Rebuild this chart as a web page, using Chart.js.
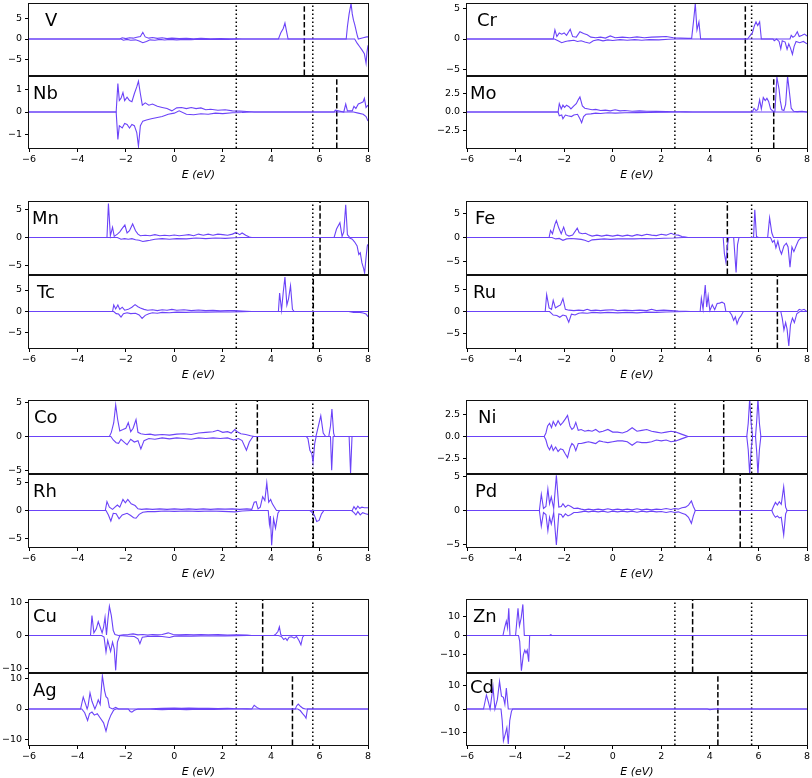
<!DOCTYPE html>
<html>
<head>
<meta charset="utf-8">
<script src="https://cdn.jsdelivr.net/npm/chart.js@4.4.1/dist/chart.umd.min.js"></script>
<style>
  html, body { margin: 0; padding: 0; background: #fff; }
  body { width: 812px; height: 778px; position: relative; overflow: hidden; }
  .panel { position: absolute; }
</style>
</head>
<body>
<script>
// spin-resolved DOS, [E (eV), value]
const V_up = [[-6,0],[-2.25,0],[-2.15,0.3],[-2.0,0.1],[-1.85,0.3],[-1.7,0.2],[-1.55,0.4],[-1.4,0.6],[-1.3,1.6],[-1.2,0.5],[-1.05,0.2],[-0.9,0.35],[-0.7,0.15],[-0.5,0.3],[-0.3,0.1],[-0.1,0.2],[0.2,0.1],[0.5,0.15],[0.8,0.05],[1.1,0.15],[1.5,0.05],[1.9,0.1],[2.3,0.05],[2.6,0.05],[2.8,0],[4.3,0],[4.4,1.5],[4.5,2.5],[4.57,3.8],[4.63,2],[4.7,0],[7.1,0],[7.15,3],[7.22,6],[7.3,8.5],[7.35,6],[7.4,4.5],[7.45,3.5],[7.55,1],[7.6,0],[7.8,0.3],[7.95,0.5],[8,0.5]];
const V_dn = [[-6,0],[-2.2,0],[-2.1,-0.3],[-1.95,-0.1],[-1.8,-0.3],[-1.6,-0.2],[-1.45,-0.5],[-1.3,-0.9],[-1.15,-0.6],[-1.0,-0.2],[-0.8,-0.3],[-0.6,-0.1],[-0.4,-0.25],[-0.2,-0.1],[0.1,-0.2],[0.4,-0.1],[0.7,-0.15],[1.0,-0.05],[1.4,-0.1],[1.8,-0.05],[2.2,-0.1],[2.6,-0.03],[2.8,0],[7.45,0],[7.55,-1],[7.65,-1.8],[7.75,-2.6],[7.85,-3.5],[7.92,-5.8],[7.96,-3],[8,-1.5]];
const Nb_up = [[-6,0],[-2.4,0],[-2.33,1.25],[-2.27,0.5],[-2.2,0.6],[-2.12,0.85],[-2.05,0.5],[-1.95,0.65],[-1.85,0.5],[-1.75,0.45],[-1.65,0.8],[-1.55,1.1],[-1.48,1.35],[-1.4,0.8],[-1.32,0.3],[-1.2,0.4],[-1.05,0.3],[-0.9,0.35],[-0.7,0.25],[-0.5,0.2],[-0.3,0.15],[-0.1,0.05],[0.1,0.18],[0.3,0.2],[0.5,0.15],[0.7,0.2],[0.9,0.15],[1.1,0.18],[1.3,0.1],[1.5,0.12],[1.8,0.08],[2.1,0.1],[2.4,0.05],[2.7,0.04],[3.0,0.02],[3.3,0],[6.6,0],[6.65,0.08],[7.0,0],[7.08,0.35],[7.15,0.05],[7.35,0.05],[7.42,0.25],[7.5,0.15],[7.6,0.35],[7.7,0.4],[7.8,0.45],[7.85,0.6],[7.92,0.2],[8,0.3]];
const Nb_dn = [[-6,0],[-2.4,0],[-2.33,-1.2],[-2.27,-0.6],[-2.15,-0.7],[-2.05,-0.5],[-1.95,-0.55],[-1.85,-0.7],[-1.75,-0.55],[-1.65,-0.6],[-1.55,-0.9],[-1.48,-1.5],[-1.4,-0.6],[-1.3,-0.4],[-1.15,-0.35],[-0.95,-0.3],[-0.75,-0.25],[-0.5,-0.2],[-0.25,-0.1],[0,-0.05],[0.2,0.05],[0.5,-0.1],[0.8,-0.12],[1.1,-0.08],[1.4,-0.1],[1.7,-0.05],[2.0,-0.07],[2.4,-0.03],[2.8,-0.02],[3.2,0],[7.4,0],[7.6,-0.05],[7.8,-0.1],[7.92,-0.2],[8,-0.4]];
const Cr_up = [[-6,0],[-2.45,0],[-2.38,1.5],[-2.3,0.4],[-2.2,1.0],[-2.1,0.8],[-2.0,1.0],[-1.9,0.6],[-1.75,1.6],[-1.65,0.4],[-1.5,0.3],[-1.35,1.2],[-1.2,0.9],[-1.05,0.7],[-0.9,0.3],[-0.7,0.2],[-0.5,0.3],[-0.3,0.15],[-0.1,0.5],[0.1,0.2],[0.4,0.3],[0.7,0.2],[1.0,0.35],[1.3,0.2],[1.6,0.3],[1.9,0.35],[2.2,0.4],[2.5,0.2],[2.8,0.15],[3.1,0.1],[3.25,0.1],[3.33,3],[3.4,5.8],[3.47,1.5],[3.55,2.8],[3.62,0],[5.55,0],[5.65,0.5],[5.75,1.0],[5.82,2.0],[5.9,2.8],[5.97,2.2],[6.05,2.8],[6.12,0],[7.3,0],[7.35,0.6],[7.42,0.3],[7.5,0.5],[7.6,1.2],[7.68,0.4],[7.8,0.6],[7.9,0.8],[8,0.5]];
const Cr_dn = [[-6,0],[-2.4,0],[-2.25,-0.3],[-2.1,-0.6],[-1.95,-0.4],[-1.8,-0.3],[-1.6,-0.2],[-1.45,-0.4],[-1.3,-0.3],[-1.15,-0.5],[-0.95,-0.7],[-0.8,-0.3],[-0.6,-0.1],[-0.4,-0.3],[-0.2,-0.15],[0,-0.25],[0.3,-0.1],[0.6,-0.2],[0.9,-0.1],[1.2,-0.2],[1.5,-0.1],[1.9,-0.15],[2.3,-0.05],[2.6,0],[6.6,0],[6.65,-0.3],[6.75,0],[6.85,-0.4],[6.92,-1.6],[6.98,-0.3],[7.1,-0.5],[7.18,-1.7],[7.25,-0.8],[7.32,-1.5],[7.4,-2.5],[7.47,-1.2],[7.55,-0.4],[7.7,-0.6],[7.85,-0.4],[8,-0.8]];
const Mo_up = [[-6,0],[-2.25,0],[-2.2,1.1],[-2.12,0.4],[-2.05,0.9],[-1.98,0.6],[-1.9,0.9],[-1.8,0.7],[-1.72,0.4],[-1.6,0.8],[-1.5,1.1],[-1.42,1.6],[-1.35,2.0],[-1.25,0.8],[-1.15,0.5],[-1.0,0.4],[-0.85,0.3],[-0.7,0.35],[-0.5,0.2],[-0.3,0.25],[-0.1,0.15],[0.1,0.3],[0.3,0.15],[0.5,0.2],[0.8,0.1],[1.1,0.15],[1.4,0.1],[1.8,0.08],[2.2,0.05],[2.6,0.04],[3.0,0.02],[3.3,0],[5.75,0],[5.82,0.5],[5.9,0.2],[5.97,0.3],[6.05,1.6],[6.12,0.4],[6.2,1.9],[6.28,1.5],[6.35,1.8],[6.42,1.4],[6.5,0.4],[6.6,0.1],[6.68,0.1],[6.76,4.6],[6.85,3.0],[6.9,1.5],[6.97,0.3],[7.05,0.2],[7.12,1.0],[7.2,4.7],[7.28,2.5],[7.35,0.5],[7.45,0.1],[7.6,0.05],[7.8,0.1],[8,0]];
const Mo_dn = [[-6,0],[-2.25,0],[-2.2,-0.5],[-2.1,-0.4],[-2.05,-0.9],[-1.95,-0.4],[-1.85,-0.5],[-1.7,-0.6],[-1.6,-0.4],[-1.45,-0.3],[-1.35,-0.9],[-1.28,-1.4],[-1.2,-0.6],[-1.1,-0.3],[-0.9,-0.25],[-0.7,-0.15],[-0.5,-0.2],[-0.2,-0.1],[0.1,-0.15],[0.5,-0.1],[1,-0.08],[1.5,-0.05],[2.2,-0.03],[2.8,0],[8,0]];
const Mn_up = [[-6,0],[-2.78,0],[-2.72,6.0],[-2.64,0.3],[-2.55,1.8],[-2.48,0.2],[-2.35,0.6],[-2.25,1.0],[-2.15,1.6],[-2.04,2.2],[-1.95,0.8],[-1.85,1.2],[-1.72,2.4],[-1.6,1.2],[-1.5,0.6],[-1.4,0.3],[-1.2,0.4],[-1.0,0.3],[-0.8,0.5],[-0.6,0.3],[-0.4,0.4],[-0.2,0.3],[0,0.45],[0.2,0.3],[0.4,0.4],[0.6,0.5],[0.8,0.3],[1.0,0.6],[1.2,0.4],[1.4,0.6],[1.6,0.4],[1.8,0.6],[2.0,0.5],[2.2,0.4],[2.4,0.6],[2.55,0.9],[2.7,0.5],[2.8,0.8],[2.95,0.4],[3.1,0.1],[3.2,0],[6.6,0],[6.7,1.5],[6.84,2.6],[6.93,0.2],[7.0,1.0],[7.08,5.8],[7.15,0.5],[7.25,0],[8,0]];
const Mn_dn = [[-6,0],[-2.35,0],[-2.2,-0.3],[-2.05,-0.2],[-1.9,-0.3],[-1.75,-0.2],[-1.6,-0.4],[-1.45,-0.5],[-1.3,-0.7],[-1.15,-0.6],[-1.0,-0.5],[-0.8,-0.3],[-0.5,-0.2],[-0.2,-0.3],[0.1,-0.2],[0.5,-0.25],[0.9,-0.1],[1.3,-0.2],[1.7,-0.1],[2.1,-0.15],[2.5,-0.05],[2.8,0],[7.2,0],[7.35,-0.3],[7.45,-0.8],[7.55,-1.5],[7.62,-3.0],[7.68,-2.7],[7.75,-4.5],[7.82,-5.5],[7.86,-6.3],[7.92,-3.5],[7.97,-1.5],[8,-1.2]];
const Tc_up = [[-6,0],[-2.55,0],[-2.5,1.5],[-2.42,0.6],[-2.33,1.5],[-2.25,0.5],[-2.15,1.0],[-2.05,0.3],[-1.9,0.5],[-1.75,1.0],[-1.62,1.6],[-1.5,1.1],[-1.4,0.8],[-1.25,0.5],[-1.1,0.3],[-0.9,0.4],[-0.7,0.2],[-0.5,0.4],[-0.3,0.3],[-0.1,0.5],[0.1,0.3],[0.4,0.4],[0.7,0.2],[1.0,0.35],[1.3,0.2],[1.6,0.3],[1.9,0.15],[2.2,0.25],[2.5,0.2],[2.8,0.1],[3.2,0],[4.3,0],[4.35,4.3],[4.43,0.3],[4.5,4.5],[4.57,8.0],[4.65,1.5],[4.72,3.0],[4.8,6.0],[4.88,0.5],[4.95,0],[8,0]];
const Tc_dn = [[-6,0],[-2.5,0],[-2.4,-0.5],[-2.3,-0.6],[-2.2,-1.3],[-2.1,-0.5],[-1.95,-0.3],[-1.8,-0.5],[-1.6,-0.4],[-1.45,-0.8],[-1.33,-1.6],[-1.2,-0.9],[-1.05,-0.5],[-0.9,-0.3],[-0.7,-0.4],[-0.5,-0.2],[-0.2,-0.3],[0.1,-0.15],[0.5,-0.2],[0.9,-0.1],[1.3,-0.15],[1.8,-0.08],[2.3,-0.1],[2.8,-0.03],[3.1,0],[7.2,0],[7.4,-0.2],[7.6,-0.15],[7.8,-0.35],[7.92,-0.6],[8,-1.2]];
const Fe_up = [[-6,0],[-2.62,0],[-2.56,1.5],[-2.48,0.8],[-2.38,2.8],[-2.32,3.6],[-2.22,2.0],[-2.12,0.8],[-2.02,2.2],[-1.92,0.6],[-1.8,0.3],[-1.65,0.5],[-1.46,2.0],[-1.38,1.0],[-1.25,0.8],[-1.12,0.9],[-1.0,0.6],[-0.85,0.3],[-0.65,0.5],[-0.45,0.3],[-0.25,0.5],[0,0.3],[0.2,0.5],[0.4,0.3],[0.6,0.5],[0.8,0.3],[1.0,0.6],[1.2,0.4],[1.4,0.7],[1.6,0.5],[1.8,0.4],[2.0,0.7],[2.2,0.5],[2.4,0.9],[2.55,0.6],[2.7,0.5],[2.85,0.2],[3.0,0.1],[3.1,0],[5.8,0],[5.85,5.9],[5.92,0.2],[6.0,0],[6.38,0],[6.46,4.2],[6.55,1.0],[6.62,0],[8,0]];
const Fe_dn = [[-6,0],[-2.5,0],[-2.35,-0.3],[-2.2,-0.2],[-2.05,-0.6],[-1.9,-0.3],[-1.7,-0.2],[-1.5,-0.3],[-1.3,-0.4],[-1.15,-0.6],[-1.0,-0.9],[-0.85,-0.5],[-0.6,-0.4],[-0.35,-0.3],[-0.1,-0.4],[0.2,-0.3],[0.5,-0.25],[0.9,-0.3],[1.3,-0.2],[1.7,-0.25],[2.1,-0.15],[2.5,-0.1],[2.9,0],[4.55,0],[4.6,-3.5],[4.66,-5.2],[4.73,-1.5],[4.78,0],[4.98,0],[5.08,-7.4],[5.14,-1.5],[5.2,0],[6.5,0],[6.58,-1.0],[6.65,-0.6],[6.72,-2.2],[6.8,-0.8],[6.88,-2.6],[6.95,-3.5],[7.05,-1.8],[7.15,-1.2],[7.22,-2.0],[7.3,-6.3],[7.38,-2.0],[7.46,-3.0],[7.55,-1.8],[7.65,-0.6],[7.75,-0.1],[8,0]];
const Ru_up = [[-6,0],[-2.78,0],[-2.72,3.8],[-2.62,0.8],[-2.52,0.5],[-2.45,2.5],[-2.36,0.8],[-2.25,1.2],[-2.15,1.5],[-2.05,2.9],[-1.95,0.5],[-1.8,0.3],[-1.6,0.2],[-1.4,0.3],[-1.2,0.2],[-1.05,0.5],[-0.9,0.2],[-0.7,0.3],[-0.5,0.2],[-0.3,0.3],[0,0.4],[0.2,0.2],[0.5,0.3],[0.8,0.2],[1.1,0.3],[1.4,0.2],[1.6,0.5],[1.8,0.2],[2.1,0.3],[2.4,0.2],[2.7,0.1],[3.0,0.05],[3.2,0],[3.6,0],[3.65,3.0],[3.72,0.5],[3.81,6.0],[3.87,1.0],[3.93,3.5],[4.0,0.2],[4.1,1.5],[4.2,0.4],[4.3,1.8],[4.4,1.9],[4.5,2.1],[4.6,1.8],[4.66,0],[7.6,0],[7.68,0.5],[7.78,0.3],[7.88,0.5],[7.95,0.2],[8,0]];
const Ru_dn = [[-6,0],[-2.6,0],[-2.45,-0.8],[-2.3,-0.9],[-2.18,-1.3],[-2.05,-0.8],[-1.92,-1.0],[-1.81,-2.4],[-1.7,-0.6],[-1.55,-0.8],[-1.4,-0.4],[-1.25,-0.3],[-1.05,-0.4],[-0.8,-0.2],[-0.5,-0.3],[-0.2,-0.2],[0.2,-0.3],[0.6,-0.2],[1.0,-0.3],[1.4,-0.15],[1.8,-0.2],[2.2,-0.1],[2.6,-0.05],[3.0,0],[4.8,0],[4.9,-0.8],[4.98,-2.0],[5.05,-1.2],[5.12,-2.8],[5.2,-1.6],[5.28,-1.0],[5.38,0],[6.92,0],[6.98,-1.5],[7.05,-4.2],[7.12,-2.5],[7.18,-4.0],[7.25,-7.8],[7.32,-3.0],[7.4,-1.5],[7.48,-2.5],[7.58,-0.5],[7.7,0],[8,0]];
const Co_up = [[-6,0],[-2.68,0],[-2.6,0.6],[-2.5,2.0],[-2.42,4.6],[-2.34,2.5],[-2.25,0.8],[-2.12,1.0],[-2.0,1.2],[-1.9,2.0],[-1.8,0.7],[-1.7,1.2],[-1.58,2.45],[-1.5,0.6],[-1.38,0.4],[-1.2,0.3],[-1.0,0.35],[-0.8,0.2],[-0.5,0.3],[-0.2,0.2],[0.1,0.35],[0.4,0.4],[0.7,0.3],[1.0,0.5],[1.3,0.6],[1.6,0.7],[1.8,0.9],[2.0,0.6],[2.2,0.7],[2.35,0.5],[2.5,1.0],[2.6,0.7],[2.75,0.4],[2.95,0.3],[3.15,0.1],[3.3,0],[5.85,0],[5.95,1.5],[6.05,3.0],[6.15,0.5],[6.25,0],[6.38,0],[6.45,1.5],[6.51,4.0],[6.58,0.5],[6.62,0],[8,0]];
const Co_dn = [[-6,0],[-2.62,0],[-2.52,-0.5],[-2.4,-0.9],[-2.3,-1.0],[-2.2,-0.4],[-2.05,-0.9],[-1.95,-1.2],[-1.8,-0.4],[-1.65,-0.8],[-1.5,-0.6],[-1.38,-1.8],[-1.25,-0.6],[-1.05,-0.3],[-0.8,-0.4],[-0.5,-0.2],[-0.2,-0.35],[0.1,-0.2],[0.4,-0.3],[0.7,-0.4],[1.0,-0.2],[1.3,-0.3],[1.6,-0.2],[1.9,-0.3],[2.2,-0.2],[2.45,-0.5],[2.65,-0.3],[2.8,-0.6],[2.98,-2.0],[3.1,-0.8],[3.25,0],[5.45,0],[5.52,-0.3],[5.6,-2.0],[5.68,-2.5],[5.73,-3.8],[5.8,-1.0],[5.86,0],[6.45,0],[6.5,-4.9],[6.56,0],[7.22,0],[7.28,-5.3],[7.34,0],[8,0]];
const Rh_up = [[-6,0],[-2.85,0],[-2.78,1.6],[-2.68,0.6],[-2.55,0.2],[-2.45,0.6],[-2.35,1.0],[-2.25,0.6],[-2.12,2.0],[-2.02,1.4],[-1.92,2.0],[-1.78,1.2],[-1.62,0.9],[-1.5,0.3],[-1.35,0.2],[-1.15,0.3],[-0.9,0.2],[-0.6,0.3],[-0.3,0.2],[0,0.3],[0.3,0.2],[0.6,0.3],[0.9,0.2],[1.2,0.3],[1.5,0.2],[1.8,0.3],[2.1,0.25],[2.4,0.3],[2.7,0.2],[3.0,0.3],[3.2,0.2],[3.3,1.5],[3.38,1.6],[3.46,0.3],[3.55,0.6],[3.65,2.5],[3.74,1.8],[3.82,5.0],[3.9,1.5],[3.98,2.0],[4.05,1.2],[4.15,0.5],[4.22,0],[7.35,0],[7.42,0.7],[7.5,0.2],[7.58,0.8],[7.66,0.4],[7.75,0.6],[7.85,0.5],[8,0.5]];
const Rh_dn = [[-6,0],[-2.82,0],[-2.72,-0.8],[-2.62,-1.9],[-2.52,-0.5],[-2.4,-0.6],[-2.28,-1.5],[-2.15,-0.8],[-1.95,-0.5],[-1.8,-0.9],[-1.68,-1.3],[-1.58,-1.4],[-1.45,-0.7],[-1.3,-0.3],[-1.1,-0.2],[-0.8,-0.2],[-0.4,-0.1],[0,-0.15],[0.5,-0.1],[1.0,-0.15],[1.5,-0.1],[2.0,-0.15],[2.5,-0.25],[2.8,-0.1],[3.2,0],[3.88,0],[3.93,-2.5],[3.97,-1.0],[4.02,-6.3],[4.1,-1.5],[4.18,-3.2],[4.28,-0.5],[4.35,0],[5.6,0],[5.68,-0.3],[5.78,-0.8],[5.88,-2.0],[5.98,-1.8],[6.08,-0.6],[6.18,0],[7.32,0],[7.42,-0.4],[7.5,-0.8],[7.58,-0.2],[7.68,-0.8],[7.78,-0.4],[7.9,-0.6],[8,-0.7]];
const Ni_up = [[-6,0],[-2.82,0],[-2.75,0.4],[-2.68,1.2],[-2.6,1.5],[-2.52,1.0],[-2.45,1.7],[-2.35,1.2],[-2.25,1.8],[-2.15,1.3],[-2.05,1.6],[-1.95,2.0],[-1.86,2.4],[-1.76,1.2],[-1.68,0.8],[-1.6,1.0],[-1.52,1.6],[-1.42,0.7],[-1.3,0.8],[-1.15,0.6],[-1.0,0.7],[-0.85,0.6],[-0.7,0.8],[-0.55,0.5],[-0.4,0.6],[-0.2,0.8],[0,0.5],[0.2,0.5],[0.4,0.4],[0.6,0.6],[0.8,1.0],[1.0,0.6],[1.2,0.7],[1.4,0.8],[1.6,0.6],[1.8,0.5],[2.0,0.4],[2.2,0.5],[2.4,0.6],[2.6,0.5],[2.8,0.3],[3.0,0.1],[3.1,0],[5.52,0],[5.58,1.5],[5.64,4.3],[5.7,1.5],[5.76,0],[5.88,0],[5.93,1.8],[5.98,4.3],[6.04,1.5],[6.1,0],[8,0]];
const Ni_dn = [[-6,0],[-2.82,0],[-2.75,-0.4],[-2.68,-1.1],[-2.6,-1.5],[-2.52,-1.0],[-2.45,-1.6],[-2.35,-1.2],[-2.25,-1.7],[-2.15,-1.4],[-2.05,-1.5],[-1.95,-2.0],[-1.86,-2.4],[-1.76,-1.3],[-1.68,-0.8],[-1.6,-1.0],[-1.52,-1.6],[-1.42,-0.8],[-1.3,-0.8],[-1.15,-0.7],[-1.0,-0.6],[-0.85,-0.7],[-0.7,-0.8],[-0.55,-0.5],[-0.4,-0.6],[-0.2,-0.7],[0,-0.6],[0.2,-0.5],[0.4,-0.5],[0.6,-0.6],[0.8,-1.0],[1.0,-0.6],[1.2,-0.7],[1.4,-0.7],[1.6,-0.6],[1.8,-0.4],[2.0,-0.5],[2.2,-0.4],[2.4,-0.6],[2.6,-0.5],[2.8,-0.3],[3.0,-0.1],[3.1,0],[5.52,0],[5.58,-1.5],[5.64,-4.3],[5.7,-1.5],[5.76,0],[5.88,0],[5.93,-1.8],[5.98,-4.3],[6.04,-1.5],[6.1,0],[8,0]];
const Pd_up = [[-6,0],[-3.02,0],[-2.94,2.4],[-2.85,0.3],[-2.75,0.6],[-2.67,3.2],[-2.6,1.0],[-2.53,2.0],[-2.43,0.3],[-2.32,5.2],[-2.22,0.5],[-2.12,0.6],[-2.05,1.0],[-1.95,0.5],[-1.84,0.8],[-1.72,0.6],[-1.6,0.3],[-1.45,0.35],[-1.3,0.2],[-1.15,0.1],[-1.0,0.2],[-0.8,0.1],[-0.6,0.2],[-0.4,0.1],[-0.2,0.25],[0,0.1],[0.2,0.2],[0.4,0.1],[0.6,0.2],[0.8,0.1],[1.0,0.25],[1.2,0.1],[1.4,0.2],[1.6,0.1],[1.8,0.2],[2.0,0.15],[2.2,0.3],[2.4,0.15],[2.55,0.3],[2.7,0.2],[2.85,0.4],[3.0,0.5],[3.12,0.8],[3.24,1.4],[3.32,0.6],[3.4,0],[6.55,0],[6.62,0.6],[6.7,1.2],[6.78,0.8],[6.86,1.3],[6.94,0.9],[7.04,3.5],[7.12,0.5],[7.18,0],[8,0]];
const Pd_dn = [[-6,0],[-3.02,0],[-2.94,-2.3],[-2.85,-0.3],[-2.75,-0.6],[-2.67,-3.0],[-2.6,-1.0],[-2.53,-2.0],[-2.43,-0.3],[-2.32,-5.1],[-2.22,-0.5],[-2.12,-0.6],[-2.05,-1.0],[-1.95,-0.5],[-1.84,-0.8],[-1.72,-0.6],[-1.6,-0.3],[-1.45,-0.3],[-1.3,-0.2],[-1.15,-0.1],[-1.0,-0.2],[-0.8,-0.1],[-0.6,-0.2],[-0.4,-0.1],[-0.2,-0.25],[0,-0.1],[0.2,-0.2],[0.4,-0.1],[0.6,-0.2],[0.8,-0.1],[1.0,-0.25],[1.2,-0.1],[1.4,-0.2],[1.6,-0.1],[1.8,-0.2],[2.0,-0.15],[2.2,-0.3],[2.4,-0.15],[2.55,-0.3],[2.7,-0.2],[2.85,-0.4],[3.0,-0.6],[3.12,-1.0],[3.24,-1.9],[3.32,-0.8],[3.4,0],[6.55,0],[6.62,-0.6],[6.7,-1.0],[6.78,-0.8],[6.86,-1.1],[6.94,-1.0],[7.04,-3.6],[7.12,-0.5],[7.18,0],[8,0]];
const Cu_up = [[-6,0],[-3.46,0],[-3.4,6.0],[-3.32,0.8],[-3.22,2.0],[-3.14,4.2],[-3.06,2.5],[-2.98,0.8],[-2.92,2.5],[-2.86,5.5],[-2.8,0.2],[-2.74,5.0],[-2.68,8.8],[-2.6,6.0],[-2.52,1.5],[-2.45,0.3],[-2.3,0],[-2.1,0.2],[-1.9,0.3],[-1.7,0.5],[-1.5,0.2],[-1.3,0.3],[-1.1,0.1],[-0.9,0.3],[-0.7,0.2],[-0.5,0.3],[-0.25,0.8],[-0.05,0.3],[0.2,0.2],[0.5,0.3],[0.8,0.2],[1.1,0.3],[1.4,0.2],[1.8,0.25],[2.2,0.15],[2.6,0.2],[3.0,0.1],[3.2,0],[4.12,0],[4.2,0.5],[4.28,1.2],[4.34,2.6],[4.4,0.2],[4.45,0],[8,0]];
const Cu_dn = [[-6,0],[-3.0,0],[-2.9,-0.5],[-2.82,-5.0],[-2.75,-1.5],[-2.63,-4.8],[-2.55,-2.0],[-2.48,-4.0],[-2.42,-10.5],[-2.35,-2.0],[-2.25,0],[-1.9,-0.2],[-1.65,-0.3],[-1.5,-1.0],[-1.42,-2.5],[-1.32,-0.5],[-1.1,-0.3],[-0.8,-0.2],[-0.5,-0.3],[-0.2,-0.6],[0,-0.2],[0.3,-0.1],[0.7,-0.2],[1.1,-0.1],[1.6,-0.15],[2.1,-0.1],[2.6,-0.05],[3.0,0],[4.3,0],[4.42,-0.3],[4.52,-1.2],[4.6,-0.8],[4.66,-1.5],[4.74,-0.5],[4.85,-0.4],[4.95,-0.8],[5.05,-0.3],[5.15,-1.5],[5.23,-2.8],[5.3,-0.5],[5.36,0],[8,0]];
const Ag_up = [[-6,0],[-3.87,0],[-3.76,3.9],[-3.66,1.5],[-3.6,0],[-3.56,1.0],[-3.48,5.2],[-3.4,2.5],[-3.28,0],[-3.2,1.5],[-3.14,3.0],[-3.06,1.5],[-2.97,10.8],[-2.88,6.0],[-2.82,4.0],[-2.75,3.5],[-2.68,0.5],[-2.55,0],[-2.42,0.5],[-2.3,0],[-1.5,0],[-1.0,0.1],[-0.5,0.2],[0,0.3],[0.3,0.2],[0.6,0.3],[1.0,0.2],[1.4,0.25],[1.8,0.15],[2.2,0.2],[2.6,0.1],[3.0,0.05],[3.2,0],[3.3,1.2],[3.45,0.3],[3.55,0],[5.0,0],[5.05,1.0],[5.12,1.6],[5.22,0.8],[5.32,0.2],[5.42,0],[8,0]];
const Ag_dn = [[-6,0],[-3.82,0],[-3.7,-1.2],[-3.58,-3.7],[-3.5,-1.5],[-3.4,-1.0],[-3.3,-2.0],[-3.18,-1.5],[-3.05,-3.0],[-2.92,-4.5],[-2.82,-7.2],[-2.72,-4.0],[-2.62,-2.0],[-2.5,-0.3],[-2.4,0],[-1.9,0],[-1.82,-0.8],[-1.75,-1.0],[-1.65,-0.4],[-1.5,0],[-1.0,-0.1],[-0.5,-0.2],[0,-0.1],[0.5,-0.2],[1,-0.1],[1.6,-0.15],[2.2,-0.1],[2.8,0],[5.1,0],[5.2,-0.5],[5.3,-1.5],[5.38,-2.2],[5.44,-3.0],[5.5,0],[8,0]];
const Zn_up = [[-6,0],[-4.52,0],[-4.45,4.0],[-4.38,7.4],[-4.33,4.0],[-4.28,14.0],[-4.23,0],[-4.0,0],[-3.9,14.0],[-3.84,5.0],[-3.77,9.0],[-3.7,16.0],[-3.64,0],[-2.6,0],[-2.55,0.4],[-2.5,0],[8,0]];
const Zn_dn = [[-6,0],[-3.88,0],[-3.83,-3.0],[-3.76,-18.1],[-3.68,-10.0],[-3.62,-7.5],[-3.57,-9.0],[-3.52,-7.5],[-3.46,-13.5],[-3.42,0],[8,0]];
const Cd_up = [[-6,0],[-5.32,0],[-5.2,6.0],[-5.12,3.0],[-5.05,0],[-4.93,9.5],[-4.85,0],[-4.75,4.0],[-4.66,11.8],[-4.58,5.5],[-4.5,5.0],[-4.44,2.0],[-4.38,9.0],[-4.3,0],[8,0]];
const Cd_dn = [[-6,0],[-4.6,0],[-4.55,-5.0],[-4.5,-13.6],[-4.42,-10.5],[-4.36,-8.0],[-4.3,-15.0],[-4.24,-5.0],[-4.17,-1.0],[-4.12,0],[3.9,0],[4.0,-0.3],[4.2,0],[8,0]];

// panel order: pairs top/bottom, left column then right column per row
const elements = ["V", "Nb", "Cr", "Mo", "Mn", "Tc", "Fe", "Ru", "Co", "Rh", "Ni", "Pd", "Cu", "Ag", "Zn", "Cd"];
const spinUp = [V_up, Nb_up, Cr_up, Mo_up, Mn_up, Tc_up, Fe_up, Ru_up, Co_up, Rh_up, Ni_up, Pd_up, Cu_up, Ag_up, Zn_up, Cd_up];
const spinDown = [V_dn, Nb_dn, Cr_dn, Mo_dn, Mn_dn, Tc_dn, Fe_dn, Ru_dn, Co_dn, Rh_dn, Ni_dn, Pd_dn, Cu_dn, Ag_dn, Zn_dn, Cd_dn];
const yLimits = [8.6, 1.58, 5.9, 4.75, 6.45, 8.5, 7.75, 8.25, 5.3, 6.6, 4.15, 5.4, 11, 11.7, 18.8, 15.4];
const yTicks = [[-5,0,5], [-1,0,1], [-5,0,5], [-2.5,0,2.5], [-5,0,5], [-5,0,5], [-5,0,5], [-5,0,5],
                [-5,0,5], [-5,0,5], [-2.5,0,2.5], [-5,0,5], [-10,0,10], [-10,0,10], [-10,0,10], [-10,0,10]];
const xTicks = [-6, -4, -2, 0, 2, 4, 6, 8];
const dottedLines = [2.56, 5.72];
const dashedLines = [5.37, 6.71, 5.46, 6.63, 6.02, 5.74, 4.72, 6.78, 3.43, 5.74, 4.57, 5.25, 3.65, 4.88, 3.29, 4.33];

const LINE_COLOR = "#6b43f8";
const FONT = "DejaVu Sans";

// page layout of the panels
const rows = [[3, 75, 76, 148], [201, 274, 275, 348], [400, 473, 474, 547], [599, 672, 673, 745]];
const cols = [{ left: 0, width: 380, axisW: 29, padR: 12 }, { left: 405, width: 415, axisW: 62, padR: 13 }];
const labelDx = [16, 4, 10, 3, 3, 8, 8, 6, 5, 4, 11, 8, 4, 4, 6, 3];

const fmtTick = (v, dec) => v.toFixed(dec).replace("-", "\u2212");

function makePanel(i) {
  const pair = Math.floor(i / 2);
  const isBottom = i % 2 === 1;
  const row = rows[Math.floor(pair / 2)];
  const col = cols[pair % 2];
  const top = isBottom ? row[2] : row[0];
  const h = (isBottom ? row[3] : row[1]) - top;

  const wrap = document.createElement("div");
  wrap.className = "panel";
  wrap.style.left = col.left + "px";
  wrap.style.top = (top - 10) + "px";
  const canvas = document.createElement("canvas");
  canvas.width = col.width;
  canvas.height = 10 + h + (isBottom ? 35 : 10);
  wrap.appendChild(canvas);
  document.body.appendChild(wrap);

  const lim = yLimits[i];
  const dec = yTicks[i].some(v => v % 1 !== 0) ? 1 : 0;

  const curve = pts => ({ data: pts, borderColor: LINE_COLOR, borderWidth: 1.1, pointRadius: 0, tension: 0 });
  const vline = (x, dash) => ({
    data: [[x, -lim], [x, lim]], borderColor: "#000", borderWidth: 1.5, borderDash: dash, pointRadius: 0
  });

  const framePlugin = {
    id: "frame",
    afterDraw(chart) {
      const { ctx, chartArea: a } = chart;
      ctx.save();
      ctx.strokeStyle = "#111";
      ctx.lineWidth = 1;
      ctx.strokeRect(Math.round(a.left) - 0.5, Math.round(a.top) + 0.5, Math.round(a.width) + 1, Math.round(a.height));
      ctx.font = "18px '" + FONT + "'";
      ctx.fillStyle = "#000";
      ctx.fillText(elements[i], a.left + labelDx[i], a.top + (elements[i] === "Cd" ? 20 : 23));
      ctx.restore();
    }
  };

  new Chart(canvas, {
    type: "line",
    data: {
      datasets: [
        curve(spinUp[i]),
        curve(spinDown[i]),
        vline(dottedLines[0], [1.5, 2.5]),
        vline(dottedLines[1], [1.5, 2.5]),
        vline(dashedLines[i], [5.5, 2.4])
      ]
    },
    options: {
      responsive: false,
      animation: false,
      devicePixelRatio: 1,
      layout: { padding: { top: 10, bottom: isBottom ? 0 : 10, left: 0, right: col.padR } },
      scales: {
        x: {
          type: "linear",
          min: -6,
          max: 8,
          display: isBottom,
          afterBuildTicks: s => { s.ticks = xTicks.map(v => ({ value: v })); },
          afterFit: s => { s.height = isBottom ? 35 : 0; },
          ticks: {
            font: { family: FONT, size: 9.5 },
            color: "#000",
            padding: 2,
            maxRotation: 0,
            autoSkip: false,
            callback: v => fmtTick(v, 0)
          },
          grid: { drawOnChartArea: false, tickLength: 4, color: "#000" },
          border: { display: false },
          title: {
            display: true,
            text: "E (eV)",
            color: "#000",
            font: { family: FONT, size: 11, style: "italic" },
            padding: { top: 0, bottom: 1.5 }
          }
        },
        y: {
          type: "linear",
          min: -lim,
          max: lim,
          afterBuildTicks: s => { s.ticks = yTicks[i].map(v => ({ value: v })); },
          afterFit: s => { s.width = col.axisW; },
          ticks: {
            font: { family: FONT, size: 9.5 },
            color: "#000",
            padding: 3,
            autoSkip: false,
            callback: v => fmtTick(v, dec)
          },
          grid: { drawOnChartArea: false, tickLength: 4, color: "#000" },
          border: { display: false }
        }
      },
      plugins: {
        legend: { display: false },
        tooltip: { enabled: false }
      }
    },
    plugins: [framePlugin]
  });
}

elements.forEach((_, i) => makePanel(i));
</script>
</body>
</html>
